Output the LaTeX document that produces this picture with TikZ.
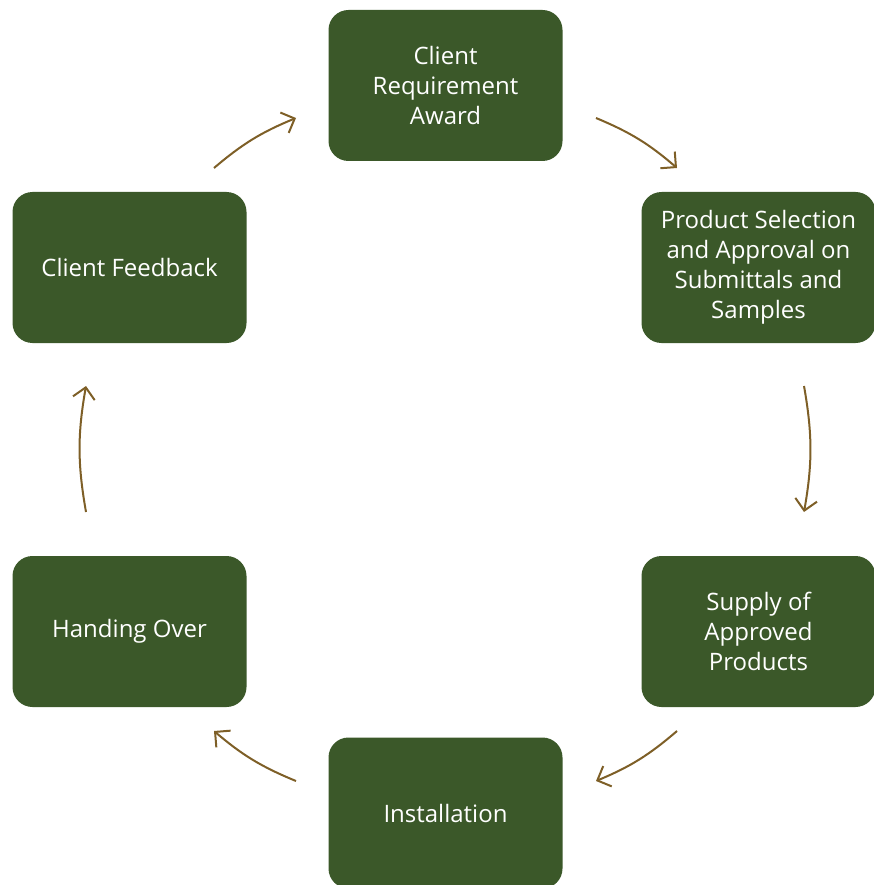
\documentclass[tikz,border=0pt]{standalone}
\usepackage{fontspec}
\setmainfont{Open Sans}
\usetikzlibrary{arrows.meta}
\definecolor{cgreen}{HTML}{3B5829}
\definecolor{cbrown}{HTML}{7E5F27}
\tikzset{
  every picture/.style={x=1pt, y=-1pt},
  stage/.style={draw=none, fill=cgreen, rounded corners=20pt, align=center, text=white,
    minimum width=234pt, minimum height=151pt, inner sep=4pt,
    font=\fontsize{24}{30}\selectfont},
  flow/.style={-{Straight Barb[length=11pt, width=22pt]}, draw=cbrown, line width=2pt, bend left=#1},
  flow/.default=9,
}
\begin{document}
\begin{tikzpicture}
  \useasboundingbox (0,0) rectangle (874,885);
  \node[stage] (req) at (445.5,85.5) {Client\\Requirement\\Award};
  \node[stage] (sel) at (758.5,267.5) {Product Selection\\and Approval on\\Submittals and\\Samples};
  \node[stage] (sup) at (758.5,631.5) {Supply of\\Approved\\Products};
  \node[stage] (ins) at (445.5,813) {Installation};
  \node[stage] (hand) at (129.5,631.5) {Handing Over};
  \node[stage] (feed) at (129.5,267.5) {Client Feedback};
  % arrow ends on the ring between the boxes
  \coordinate (a1) at (214,168); \coordinate (a2) at (296,118);
  \coordinate (b1) at (596,118); \coordinate (b2) at (677,168);
  \coordinate (c1) at (804,386); \coordinate (c2) at (804,512);
  \coordinate (d1) at (677,731); \coordinate (d2) at (596,781);
  \coordinate (e1) at (296,781); \coordinate (e2) at (214,731);
  \coordinate (f1) at (86,512);  \coordinate (f2) at (86,386);
  \draw[flow] (a1) to (a2);
  \draw[flow] (b1) to (b2);
  \draw[flow=10] (c1) to (c2);
  \draw[flow] (d1) to (d2);
  \draw[flow] (e1) to (e2);
  \draw[flow=10] (f1) to (f2);
\end{tikzpicture}
\end{document}
